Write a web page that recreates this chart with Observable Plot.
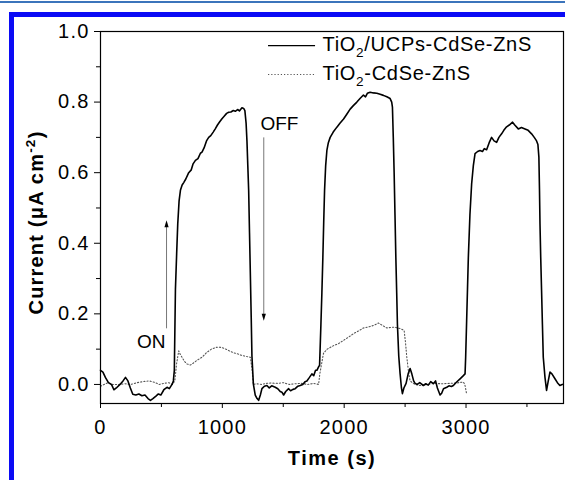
<!DOCTYPE html>
<html><head><meta charset="utf-8">
<script src="https://cdn.jsdelivr.net/npm/d3@7"></script>
<script src="https://cdn.jsdelivr.net/npm/@observablehq/plot@0.6"></script>
<style>
html,body{margin:0;padding:0;background:#fff;}
#wrap{position:relative;width:565px;height:480px;overflow:hidden;background:#fff;}
.deco{position:absolute;pointer-events:none;}
</style></head><body>
<div id="wrap"><div id="chart"></div>
<div class="deco" style="left:0;top:1px;width:565px;height:2px;background:#3b74bb"></div>
<div class="deco" style="left:9px;top:12px;width:556px;height:5px;background:#0b0bf5"></div>
<div class="deco" style="left:9px;top:12px;width:5px;height:468px;background:#0b0bf5"></div>
</div>
<script>
// ---- data ----
const solidTime = [0,20,40,65,90,110,130,160,185,205,225,245,265,290,315,340,365,390,410,430,455,475,495,520,546,565,587,598,606,615,625,634,645,656,670,683,700,724,745,760,779,800,820,833,850,870,888,905,925,943,960,980,997,1015,1035,1052,1070,1090,1107,1125,1140,1161,1175,1185,1195,1202,1209,1216,1223,1230,1237,1243,1255,1270,1285,1298,1312,1325,1345,1366,1385,1405,1434,1455,1475,1489,1503,1520,1544,1560,1580,1598,1620,1639,1660,1680,1694,1715,1735,1750,1765,1776,1790,1798,1809,1817,1825,1832,1839,1848,1858,1870,1885,1910,1940,1965,1995,2020,2049,2075,2104,2130,2158,2175,2190,2213,2240,2268,2295,2322,2350,2377,2390,2396,2403,2410,2417,2424,2431,2437,2448,2459,2470,2478,2490,2508,2525,2541,2555,2570,2582,2600,2620,2650,2670,2690,2710,2732,2750,2765,2787,2800,2815,2842,2860,2880,2896,2923,2951,2970,2978,2992,2997,3005,3012,3019,3032,3046,3060,3074,3095,3115,3135,3150,3169,3190,3210,3230,3251,3270,3292,3310,3333,3355,3382,3400,3429,3455,3484,3510,3538,3560,3579,3590,3598,3603,3607,3613,3620,3627,3634,3648,3661,3675,3689,3705,3730,3750,3770,3790];
const solidCurrent = [0.04,0.035,0.02,0.005,0.0,-0.015,-0.01,0.0,0.01,0.02,0.01,-0.01,-0.028,-0.03,-0.027,-0.032,-0.03,-0.04,-0.045,-0.04,-0.033,-0.027,-0.03,-0.015,-0.008,-0.012,0.0,0.01,0.04,0.27,0.37,0.455,0.52,0.55,0.565,0.572,0.582,0.6,0.608,0.625,0.635,0.64,0.655,0.658,0.67,0.69,0.70,0.705,0.715,0.725,0.735,0.745,0.753,0.76,0.768,0.771,0.772,0.776,0.774,0.779,0.775,0.784,0.782,0.776,0.74,0.69,0.62,0.55,0.43,0.31,0.19,0.08,0.0,-0.03,-0.04,-0.045,-0.03,-0.012,-0.005,-0.003,-0.01,-0.004,-0.008,-0.012,-0.02,-0.022,-0.03,-0.02,-0.012,-0.018,-0.014,-0.012,-0.005,-0.003,0.0,0.008,0.01,0.02,0.03,0.025,0.04,0.04,0.05,0.054,0.17,0.26,0.36,0.46,0.55,0.62,0.663,0.685,0.70,0.715,0.729,0.74,0.752,0.765,0.78,0.79,0.80,0.81,0.82,0.815,0.825,0.828,0.826,0.825,0.822,0.819,0.815,0.81,0.80,0.786,0.70,0.60,0.48,0.36,0.26,0.17,0.08,0.03,-0.01,-0.026,-0.01,0.003,0.03,0.045,0.03,0.01,0.003,0.0,0.005,-0.003,0.002,-0.002,0.008,0.002,0.01,-0.01,-0.03,-0.025,-0.012,-0.008,-0.004,-0.006,-0.003,0.007,0.016,0.022,0.025,0.03,0.077,0.18,0.27,0.36,0.48,0.568,0.62,0.654,0.66,0.663,0.66,0.668,0.665,0.685,0.70,0.69,0.686,0.70,0.71,0.72,0.73,0.735,0.743,0.735,0.724,0.728,0.724,0.72,0.71,0.70,0.69,0.68,0.644,0.55,0.455,0.36,0.266,0.17,0.077,0.02,-0.017,0.01,0.035,0.03,0.016,0.005,-0.003,0.0];
const dottedTime = [0,30,60,100,150,200,250,300,350,400,423,450,480,520,560,590,610,625,642,655,669,690,710,738,760,790,833,870,910,950,970,1000,1030,1052,1090,1130,1161,1200,1230,1245,1254,1280,1320,1360,1400,1459,1500,1550,1600,1650,1700,1750,1790,1800,1830,1860,1913,1950,1995,2040,2077,2120,2158,2200,2240,2281,2310,2350,2390,2418,2460,2492,2503,2514,2530,2541,2580,2623,2680,2740,2800,2860,2920,2978,2990,3005];
const dottedCurrent = [-0.005,0.0,0.005,0.0,0.0,0.002,0.0,0.005,0.008,0.01,0.008,0.005,0.0,0.003,0.005,0.0,0.01,0.06,0.095,0.085,0.077,0.065,0.058,0.055,0.06,0.068,0.077,0.09,0.1,0.105,0.106,0.104,0.1,0.096,0.09,0.086,0.082,0.079,0.077,0.04,0.0,0.002,0.0,0.003,0.004,0.003,0.005,0.0,0.002,0.003,0.0,0.003,0.0,0.03,0.088,0.1,0.11,0.115,0.125,0.135,0.144,0.152,0.16,0.163,0.167,0.174,0.168,0.16,0.162,0.162,0.158,0.153,0.12,0.077,0.03,0.01,0.0,-0.003,0.0,0.003,0.002,0.003,0.004,0.007,0.0,-0.027];
const seriesNames = ["TiO2/UCPs-CdSe-ZnS", "TiO2-CdSe-ZnS"];
const xTicks = [0, 1000, 2000, 3000];
const xMinorTicks = [500, 1500, 2500, 3500];
const yTicks = [0.0, 0.2, 0.4, 0.6, 0.8, 1.0];
const yMinorTicks = [0.1, 0.3, 0.5, 0.7, 0.9];
const annotationLabels = ["ON", "OFF"];
const xTitle = "Time (s)";
const yTitle = "Current (μA cm-2)";

// ---- build ----
const solid = solidTime.map((t, i) => ({t, v: solidCurrent[i]}));
const dotted = dottedTime.map((t, i) => ({t, v: dottedCurrent[i]}));

// layout (in data units) for legend & annotations
const legend = {x1: 1379, x2: 1765, tx: 1822, rowsLine: [0.960, 0.878], rowsText: [0.963, 0.881]};
const onArrow = {x: 542, y1: 0.159, y2: 0.465, tx: 533, ty: 0.120};
const offArrow = {x: 1340, y1: 0.70, y2: 0.181, tx: 1313, ty: 0.737};

const narrowTri = {draw(ctx, size) {
  const r = Math.sqrt(size / Math.PI);
  ctx.moveTo(0, -r * 1.2); ctx.lineTo(r * 0.62, r * 0.85); ctx.lineTo(-r * 0.62, r * 0.85); ctx.closePath();
}};
const blank = () => "";

const chart = Plot.plot({
  width: 565, height: 480,
  marginLeft: 100, marginRight: 2, marginTop: 31, marginBottom: 77,
  style: {fontFamily: "'Liberation Sans', Arial, sans-serif", fontSize: "20px", background: "transparent", color: "black", overflow: "visible"},
  x: {domain: [0, 3800]},
  y: {domain: [-0.054, 1.0]},
  marks: [
    Plot.axisX({ticks: xTicks, tickSize: 5, tickPadding: 11, label: null, tickFormat: d3.format("d"), fontSize: 20}),
    Plot.axisX({ticks: xMinorTicks, tickSize: 4, label: null, tickFormat: blank}),
    Plot.axisY({ticks: yTicks, tickSize: 6, tickPadding: 5, label: null, tickFormat: d3.format(".1f"), fontSize: 20}),
    Plot.axisY({ticks: yMinorTicks, tickSize: 4, label: null, tickFormat: blank}),
    Plot.line(dotted, {x: "t", y: "v", stroke: "#555", strokeWidth: 1.1, strokeDasharray: "1.2,2"}),
    Plot.line(solid, {x: "t", y: "v", stroke: "black", strokeWidth: 1.6}),
    Plot.frame({stroke: "black", strokeWidth: 1.2}),
    // legend
    Plot.ruleY([legend.rowsLine[0]], {x1: legend.x1, x2: legend.x2, stroke: "black", strokeWidth: 1.4}),
    Plot.ruleY([legend.rowsLine[1]], {x1: legend.x1, x2: legend.x2, stroke: "#555", strokeWidth: 1.1, strokeDasharray: "1.2,2"}),
    Plot.text(seriesNames, {x: legend.tx, y: (d, i) => legend.rowsText[i], text: d => d, textAnchor: "start", lineAnchor: "middle", fontSize: 20}),
    // annotations
    Plot.link([onArrow, offArrow], {x1: "x", x2: "x", y1: "y1", y2: d => d.y2 + (d.y2 > d.y1 ? -0.012 : 0.012), stroke: "#777", strokeWidth: 1}),
    Plot.dot([onArrow], {x: "x", y: "y2", symbol: narrowTri, r: 3.4, fill: "black", stroke: "none", dy: 4}),
    Plot.dot([offArrow], {x: "x", y: "y2", symbol: narrowTri, r: 3.4, fill: "black", stroke: "none", dy: -4, rotate: 180}),
    Plot.text([onArrow], {x: "tx", y: "ty", text: () => annotationLabels[0], textAnchor: "end", lineAnchor: "middle", fontSize: 19}),
    Plot.text([offArrow], {x: "tx", y: "ty", text: () => annotationLabels[1], textAnchor: "start", lineAnchor: "middle", fontSize: 19}),
    // axis titles
    Plot.text([xTitle], {frameAnchor: "bottom", text: d => d, dy: 55, textAnchor: "middle", lineAnchor: "middle", fontWeight: "bold", fontSize: 20}),
    Plot.text([yTitle], {frameAnchor: "left", text: d => d, dx: -64, dy: 5, rotate: -90, textAnchor: "middle", lineAnchor: "middle", fontWeight: "bold", fontSize: 20})
  ]
});
document.getElementById("chart").appendChild(chart);

// rich text: sub/superscripts
function rich(el, parts, base) {
  const sel = d3.select(el);
  sel.text(null);
  let shift = 0;
  for (const [s, kind] of parts) {
    const target = kind === "sub" ? base * 0.3 : kind === "sup" ? -base * 0.42 : 0;
    const ts = sel.append("tspan").text(s);
    if (target !== shift) { ts.attr("dy", target - shift); shift = target; }
    if (kind !== "n") ts.attr("font-size", base * 0.68);
  }
}
d3.select(chart).selectAll("text").each(function() {
  const t = this.textContent;
  if (t === seriesNames[0]) { rich(this, [["TiO", "n"], ["2", "sub"], ["/UCPs-CdSe-ZnS", "n"]], 20); this.style.letterSpacing = "0.7px"; }
  else if (t === seriesNames[1]) { rich(this, [["TiO", "n"], ["2", "sub"], ["-CdSe-ZnS", "n"]], 20); this.style.letterSpacing = "0.7px"; }
  else if (t === yTitle) { rich(this, [["Current (μA cm", "n"], ["-2", "sup"], [")", "n"]], 20); this.style.letterSpacing = "1.2px"; }
  else if (t === xTitle) { this.style.letterSpacing = "1.5px"; }
  else if (/^-?[0-9.]+$/.test(t)) { this.style.letterSpacing = "1.2px"; }
});
</script>
</body></html>
